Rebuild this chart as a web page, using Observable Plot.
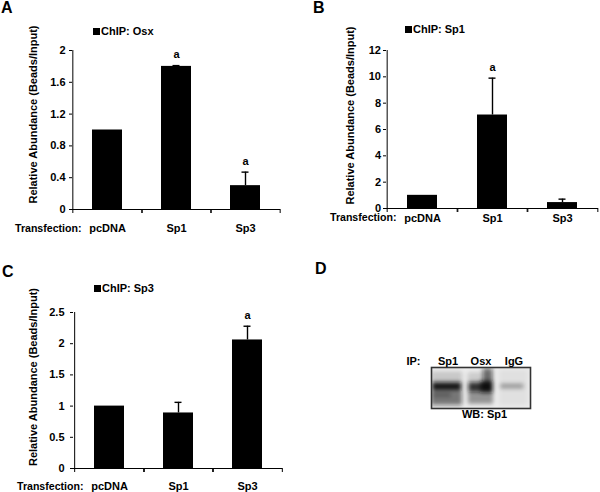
<!DOCTYPE html>
<html><head><meta charset="utf-8">
<script src="https://cdn.jsdelivr.net/npm/d3@7"></script>
<script src="https://cdn.jsdelivr.net/npm/@observablehq/plot@0.6"></script>
<style>
html,body{margin:0;padding:0;background:#fff;}
#fig{position:relative;width:600px;height:492px;overflow:hidden;font-family:"Liberation Sans",Arial,sans-serif;font-weight:bold;color:#000;}
.abs{position:absolute;white-space:nowrap;line-height:1;}
.pane{position:absolute;}
.pane svg{overflow:visible;}
</style>
</head><body>
<div id="fig"></div>
<script>
// ---- data ----
const transfections = ["pcDNA", "Sp1", "Sp3"];

const osxMean = [1.0, 1.80, 0.30];
const osxErr  = [0, 0.01, 0.17];
const osxSig  = ["", "a", "a"];
const osxTicks = [0, 0.4, 0.8, 1.2, 1.6, 2];

const sp1Mean = [1.0, 7.1, 0.45];
const sp1Err  = [0, 2.8, 0.26];
const sp1Sig  = ["", "a", ""];
const sp1Ticks = [0, 2, 4, 6, 8, 10, 12];

const sp3Mean = [1.0, 0.89, 2.06];
const sp3Err  = [0, 0.17, 0.22];
const sp3Sig  = ["", "", "a"];
const sp3Ticks = [0, 0.5, 1, 1.5, 2, 2.5];

const yTitle = "Relative Abundance (Beads/Input)";
const xTitle = "Transfection:";

// western blot (panel D): lanes and estimated band densities
const ipLanes = ["Sp1", "Osx", "IgG"];
const blotBands = [
  {x1: 0.00, x2: 0.95, top: 0.10, bottom: 0.36, shade: 0.16},
  {x1: 0.03, x2: 0.92, top: 0.37, bottom: 0.57, shade: 0.97},
  {x1: 0.00, x2: 0.94, top: 0.58, bottom: 0.93, shade: 0.55},
  {x1: 0.05, x2: 0.60, top: 0.64, bottom: 0.72, shade: 0.35},
  {x1: 1.10, x2: 1.88, top: 0.12, bottom: 0.36, shade: 0.14},
  {x1: 1.57, x2: 1.86, top: 0.02, bottom: 0.40, shade: 0.55},
  {x1: 1.13, x2: 1.87, top: 0.37, bottom: 0.60, shade: 0.85},
  {x1: 1.50, x2: 1.86, top: 0.34, bottom: 0.62, shade: 0.95},
  {x1: 1.12, x2: 1.88, top: 0.60, bottom: 0.90, shade: 0.38},
  {x1: 2.05, x2: 2.95, top: 0.05, bottom: 0.95, shade: 0.06},
  {x1: 2.10, x2: 2.80, top: 0.41, bottom: 0.52, shade: 0.35}
];

const FONT = '"Liberation Sans", Arial, sans-serif';
const fig = document.getElementById("fig");

function label(text, x, cy, size, anchor) {
  const d = document.createElement("div");
  d.className = "abs";
  d.textContent = text;
  d.style.fontSize = size + "px";
  d.style.top = (cy - 0.4885 * size) + "px";
  d.style.left = x + "px";
  if (anchor === "middle") d.style.transform = "translateX(-50%)";
  fig.appendChild(d);
}
function square(x, y, s) {
  const d = document.createElement("div");
  d.style.cssText = `position:absolute;left:${x}px;top:${y}px;width:${s}px;height:${s}px;background:#000`;
  fig.appendChild(d);
}
function place(node, left, top) {
  const d = document.createElement("div");
  d.className = "pane";
  d.style.left = left + "px";
  d.style.top = top + "px";
  d.appendChild(node);
  fig.appendChild(d);
}

function barPanel(o) {
  const data = transfections.map((c, i) => ({cat: c, mean: o.mean[i], err: o.err[i], top: o.mean[i] + o.err[i], sig: o.sig[i]}));
  const withErr = data.filter(d => d.err > 0);
  const W = 300, H = 246;
  const step = (W - o.ml - o.mr) / transfections.length;
  return Plot.plot({
    width: W, height: H,
    marginLeft: o.ml, marginRight: o.mr, marginTop: o.mt, marginBottom: o.mb,
    style: {fontFamily: FONT, fontSize: "11px", fontWeight: "bold", color: "#000", background: "none"},
    x: {domain: transfections, paddingInner: 0.57, paddingOuter: 0.285, axis: null},
    y: {domain: [0, o.ticks[o.ticks.length - 1]], axis: null},
    marks: [
      Plot.barY(data, {x: "cat", y: "mean", fill: "#000"}),
      Plot.ruleX(withErr, {x: "cat", y1: "mean", y2: "top", stroke: "#000", strokeWidth: 1.4}),
      Plot.tickY(withErr, {x: "cat", y: "top", stroke: "#000", strokeWidth: 1.4, insetLeft: 11.5, insetRight: 11.5}),
      Plot.text(data.filter(d => d.sig), {x: "cat", y: "top", text: "sig", dy: -11, fontSize: 11, fontWeight: "bold", fill: "#000"}),
      Plot.ruleY([0], {stroke: "#000", strokeWidth: 1}),
      Plot.ruleX([transfections[0]], {x: d => d, dx: -step / 2, stroke: "#000", strokeWidth: 1}),
      Plot.axisY({ticks: o.ticks, tickSize: 3, tickPadding: o.tp, label: null, tickFormat: d => String(d), stroke: "#000", strokeOpacity: 1, fill: "#000"}),
      Plot.axisX({tickSize: 4, text: null, dx: -step / 2, label: null, stroke: "#000", strokeOpacity: 1}),
      Plot.axisX({tickSize: 4, text: null, dx: step / 2, label: null, stroke: "#000", strokeOpacity: 1}),
      Plot.axisX({tickSize: 0, tickPadding: o.xp, label: null, fill: "#000"}),
      Plot.text([yTitle], {frameAnchor: "left", textAnchor: "middle", lineAnchor: "middle", rotate: -90, dx: o.ytdx, dy: o.ytdy, fontSize: 11, fontWeight: "bold", fill: "#000"})
    ]
  });
}

// Panel A
label("A", 1, 7.5, 16);
square(93, 27.5, 7);
label("ChIP: Osx", 101, 31, 11);
place(barPanel({mean: osxMean, err: osxErr, sig: osxSig, ticks: osxTicks,
  ml: 72, mr: 20, mt: 50, mb: 37, tp: 4, xp: 15, ytdx: -39, ytdy: -15.5}), 0, 0);
label(xTitle, 15, 228, 10.6);

// Panel B
label("B", 313, 8, 16);
square(405, 25.5, 7);
label("ChIP: Sp1", 413, 29, 11);
place(barPanel({mean: sp1Mean, err: sp1Err, sig: sp1Sig, ticks: sp1Ticks,
  ml: 86, mr: 2, mt: 50, mb: 38, tp: 2.5, xp: 5.5, ytdx: -36, ytdy: -14}), 300, 0);
label(xTitle, 330, 217, 10.6);

// Panel C
label("C", 2, 272, 16);
square(94, 284.5, 7);
label("ChIP: Sp3", 102, 288.5, 11);
place(barPanel({mean: sp3Mean, err: sp3Err, sig: sp3Sig, ticks: sp3Ticks,
  ml: 73, mr: 18, mt: 66, mb: 24, tp: 6, xp: 14, ytdx: -40, ytdy: -13.5}), 0, 246);
label(xTitle, 17, 486, 10.6);

// Panel D (western blot)
label("D", 315, 268.5, 16);
const blot = Plot.plot({
  width: 300, height: 246,
  marginLeft: 131, marginRight: 70, marginTop: 121, marginBottom: 84,
  style: {fontFamily: FONT, fontSize: "11px", fontWeight: "bold", color: "#000", background: "none"},
  x: {domain: [0, ipLanes.length], axis: null},
  y: {domain: [0, 1], reverse: true, axis: null},
  marks: [
    Plot.frame({fill: "#eeeeee", stroke: null}),
    Plot.rect(blotBands, {x1: "x1", x2: "x2", y1: "top", y2: "bottom", fill: "#111", fillOpacity: "shade", clip: "frame"}),
    Plot.frame({stroke: "#333", strokeWidth: 1.6}),
    Plot.text(ipLanes, {x: (d, i) => i + 0.5, text: d => d, frameAnchor: "top", dy: -10.7, fontSize: 11, fill: "#000"}),
    Plot.text(["IP:"], {frameAnchor: "top-left", textAnchor: "middle", dx: -18, dy: -10.7, fontSize: 11, fill: "#000"}),
    Plot.text(["WB: Sp1"], {frameAnchor: "bottom", dx: 3.5, dy: 9.4, fontSize: 11, fill: "#000"})
  ]
});
const defs = d3.select(blot).insert("defs", ":first-child");
defs.append("filter").attr("id", "blotblur").attr("x", "-20%").attr("y", "-20%").attr("width", "140%").attr("height", "140%")
  .append("feGaussianBlur").attr("stdDeviation", 2);
d3.select(blot).selectAll('g[aria-label="rect"]').attr("filter", "url(#blotblur)");
place(blot, 300, 246);
</script>
</body></html>
